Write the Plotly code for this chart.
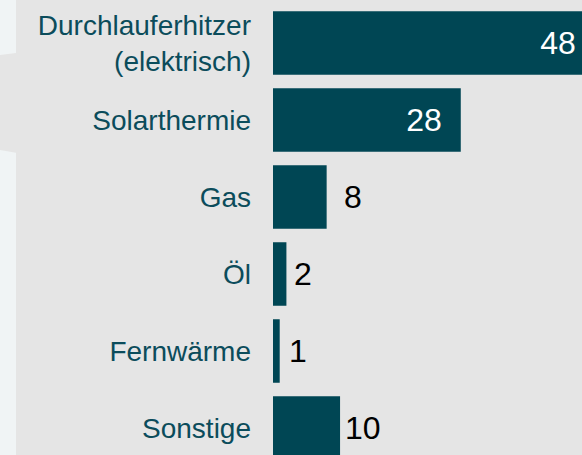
import plotly.graph_objects as go

categories = ["Durchlauferhitzer<br>(elektrisch)", "Solarthermie", "Gas", "Öl", "Fernwärme", "Sonstige"]
values = [48, 28, 8, 2, 1, 10]
label_inside = [True, True, False, False, False, False]
# pixel gap between bar end and outside value label (style only)
outside_gap_px = [0, 0, 17, 8, 9, 5]

W, H = 582, 455
plot_left = 273
px_per_unit = 6.706
x_max = (W - plot_left) / px_per_unit

first_center_px = 43
pitch_px = 77
y_top = -first_center_px / pitch_px
y_bottom = y_top + H / pitch_px

FONT = "Liberation Sans, Arial, sans-serif"
EN = "\u2002"

inside_texts = [f"{v}{EN}" if ins else "" for v, ins in zip(values, label_inside)]

fig = go.Figure(
    go.Bar(
        x=values,
        y=categories,
        orientation="h",
        marker=dict(color="#004654", line=dict(width=0)),
        text=inside_texts,
        textposition="inside",
        insidetextanchor="end",
        insidetextfont=dict(color="white", size=32, family=FONT),
        constraintext="none",
        cliponaxis=True,
        hoverinfo="skip",
    )
)

annotations = []
for c, v, ins, gap in zip(categories, values, label_inside, outside_gap_px):
    if ins:
        continue
    annotations.append(dict(
        x=v, y=c, xref="x", yref="y",
        text=str(v), showarrow=False,
        xanchor="left", yanchor="middle", xshift=gap,
        borderpad=0, borderwidth=0,
        font=dict(size=32, color="#000000", family=FONT),
    ))

def py(v):
    return 1 - v / H

strip_x = 16 / W
shapes = [
    dict(type="path", xref="paper", yref="paper", layer="below",
         path=f"M 0 {py(0)} L {strip_x} {py(0)} L {strip_x} {py(53)} L 0 {py(55)} Z",
         fillcolor="#f0f4f5", line=dict(width=0)),
    dict(type="path", xref="paper", yref="paper", layer="below",
         path=f"M 0 {py(150)} L {strip_x} {py(152.7)} L {strip_x} {py(H)} L 0 {py(H)} Z",
         fillcolor="#f0f4f5", line=dict(width=0)),
]

fig.update_layout(
    width=W, height=H,
    margin=dict(l=0, r=0, t=0, b=0),
    paper_bgcolor="#e5e5e5",
    plot_bgcolor="#e5e5e5",
    bargap=0.175,
    showlegend=False,
    shapes=shapes,
    annotations=annotations,
    font=dict(family=FONT),
    xaxis=dict(domain=[plot_left / W, 1], range=[0, x_max], visible=False, fixedrange=True),
    yaxis=dict(
        domain=[0, 1],
        range=[y_bottom, y_top],
        showgrid=False, zeroline=False, showline=False,
        ticks="", automargin=False,
        tickfont=dict(size=28, color="#0b4c5b", family=FONT),
        ticklabelstandoff=21,
        fixedrange=True,
    ),
)

fig.write_html("out.html", config={"displayModeBar": False})

# remove the default page margin so the figure sits at the window's corner
with open("out.html", "r", encoding="utf-8") as f:
    html = f.read()
html = html.replace("<body>", '<body style="margin:0;padding:0;background:#e5e5e5;overflow:hidden">', 1)
with open("out.html", "w", encoding="utf-8") as f:
    f.write(html)
